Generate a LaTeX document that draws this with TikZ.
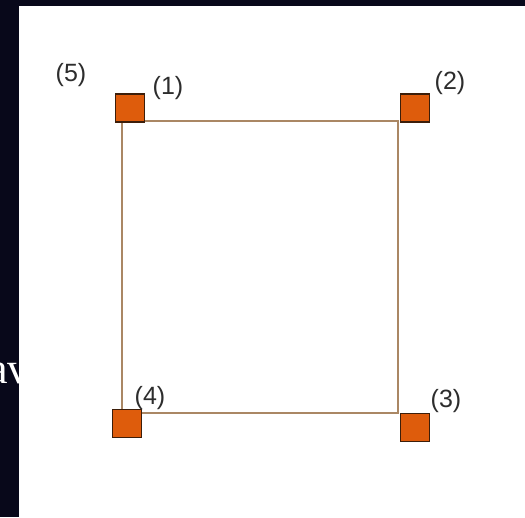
\documentclass[tikz,border=0pt]{standalone}
\usepackage{fontspec}
\setmainfont{Liberation Sans}
\newfontfamily\serifav{Liberation Serif}
\definecolor{bgdark}{RGB}{8,8,26}
\definecolor{sqfill}{RGB}{222,92,12}
\definecolor{sqedge}{RGB}{60,30,10}
\definecolor{edgeline}{RGB}{170,135,100}
\definecolor{labelgray}{RGB}{45,45,45}
\tikzset{
  sqnode/.style={draw=sqedge, fill=sqfill, line width=1.3pt, minimum width=29pt, minimum height=28pt, inner sep=0pt, outer sep=0pt},
  lbl/.style={text=labelgray, inner sep=0pt, font=\fontsize{25}{25}\selectfont},
  edge/.style={draw=edgeline, line width=1.1pt}
}
\begin{document}
\begin{tikzpicture}[x=1pt,y=-1pt]
\useasboundingbox (0,0) rectangle (525,517);
\fill[bgdark] (0,0) rectangle (525,517);
\node[text=white, anchor=base west, inner sep=0pt, font=\serifav\fontsize{44}{44}\selectfont] (av) at (-12,383) {av};
\fill[white] (19,6) rectangle (525,517);
% outline
\coordinate (c1) at (122,121);
\coordinate (c2) at (398,121);
\coordinate (c3) at (398,413);
\coordinate (c4) at (122,413);
\draw[edge] (c1) -- (c2) -- (c3) -- (c4) -- cycle;
% squares
\node[sqnode] (s1) at (130,108) {};
\node[sqnode] (s2) at (415,108) {};
\node[sqnode] (s3) at (415,427.5) {};
\node[sqnode] (s4) at (127,423.5) {};
% labels
\node[lbl] (l5) at (71,75) {(5)};
\node[lbl] (l1) at (168,88) {(1)};
\node[lbl] (l2) at (450,83) {(2)};
\node[lbl] (l3) at (446,401) {(3)};
\node[lbl] (l4) at (150,398) {(4)};
\end{tikzpicture}
\end{document}
